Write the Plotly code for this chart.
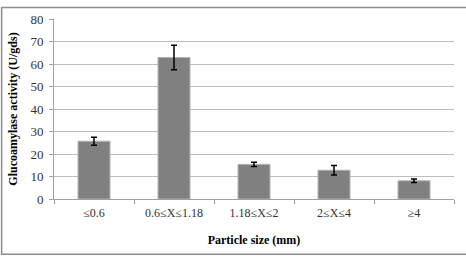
import plotly.graph_objects as go

categories = ["≤0.6", "0.6≤X≤1.18", "1.18≤X≤2", "2≤X≤4", "≥4"]
activity = [25.7, 62.9, 15.4, 12.8, 8.1]
errors = [1.8, 5.4, 0.9, 2.1, 0.8]

font_family = "Liberation Serif"

fig = go.Figure(
    go.Bar(
        x=categories,
        y=activity,
        width=0.4,
        marker=dict(color="#808080", line=dict(color="#b4b4b4", width=1)),
        error_y=dict(type="data", array=errors, visible=True,
                     color="#000000", thickness=1.5, width=3),
    )
)

fig.update_layout(
    width=466, height=258,
    margin=dict(l=53, r=12, t=13, b=59),
    paper_bgcolor="white", plot_bgcolor="white",
    showlegend=False,
    font=dict(family=font_family, size=12, color="#000000"),
    shapes=[dict(type="rect", xref="paper", yref="paper",
                 x0=-52.5/401, x1=(466-12+11)/401 - 0.0, y0=-57/186, y1=1+12/186,
                 line=dict(color="#8c8c8c", width=1.5), fillcolor="rgba(0,0,0,0)",
                 layer="below")],
)

fig.update_xaxes(
    type="category",
    tickson="boundaries",
    ticks="outside", ticklen=4, tickcolor="#a0a0a0",
    showline=True, linecolor="#a0a0a0", linewidth=1,
    showgrid=False,
    ticklabelstandoff=3,
    tickfont=dict(family=font_family, size=12, color="#333333"),
    title=dict(text="<b>Particle size (mm)</b>", font=dict(family=font_family, size=12), standoff=16),
)

fig.update_yaxes(
    range=[0, 80], dtick=10,
    ticks="outside", ticklen=4, tickcolor="#a0a0a0",
    showline=True, linecolor="#a0a0a0", linewidth=1,
    showgrid=True, gridcolor="#bdbdbd", gridwidth=1,
    zeroline=False,
    ticklabelstandoff=3,
    tickfont=dict(family=font_family, size=13, color="#333333"),
    title=dict(text="<b>Glucoamylase activity (U/gds)</b>", font=dict(family=font_family, size=12), standoff=10),
)

fig.write_html("out.html")
